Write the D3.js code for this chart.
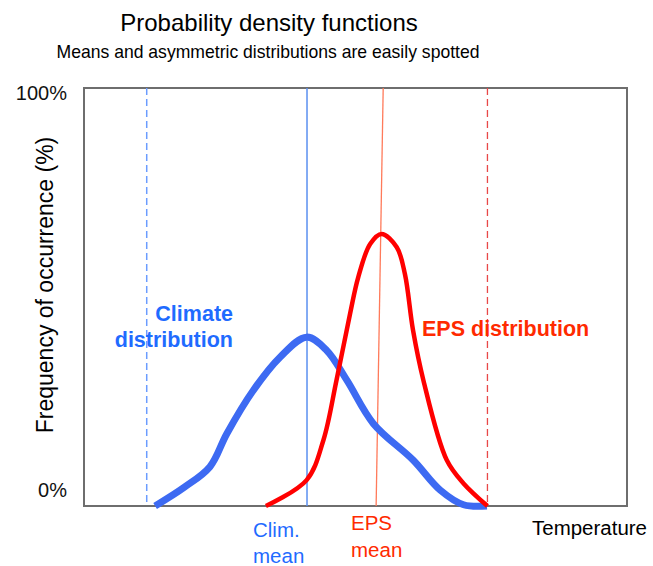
<!DOCTYPE html>
<html><head><meta charset="utf-8">
<script src="https://cdn.jsdelivr.net/npm/d3@7/dist/d3.min.js"></script>
<style>body{margin:0;background:#fff}svg{display:block;font-family:"Liberation Sans",Arial,sans-serif}</style>
</head><body><svg id="c" width="653" height="566"></svg>
<script>
// Data (temperature in arbitrary units 0..100, frequency in %)
const climateTemp = [13.1, 18.5, 23.2, 26.3, 31.2, 36.1, 41.0, 44.7, 48.4, 53.3, 60.6, 65.6, 69.9, 74.2];
const climateFreq = [0, 4.5, 9.4, 17.3, 27.7, 35.6, 40.4, 37.2, 30.1, 19.7, 11.0, 3.8, 0.3, 0];
const epsTemp = [33.5, 41.0, 44.1, 46.5, 49.0, 50.5, 52.7, 54.8, 57.6, 59.1, 60.6, 62.5, 66.8, 69.9, 74.3];
const epsFreq = [0, 6.2, 15.8, 30.1, 46.0, 54.7, 62.7, 65.1, 61.9, 55.5, 42.0, 30.1, 11.0, 5.4, 0];
const climateRange = [11.55, 74.3];
const climateMean = 41.07;
const epsMeanTop = 55.1, epsMeanBottom = 53.8;
const yTickLabels = ["0%", "100%"];
const yTickValues = [0, 100];

const svg = d3.select("#c");
const x = d3.scaleLinear().domain([0, 100]).range([84, 627]);
const y = d3.scaleLinear().domain([0, 100]).range([506, 88]);

// frame
svg.append("rect").attr("x", x(0)).attr("y", y(100)).attr("width", x(100) - x(0)).attr("height", y(0) - y(100))
  .attr("fill", "none").attr("stroke", "#6e6e6e").attr("stroke-width", 2);

// y tick labels
svg.selectAll(".yt").data(yTickValues).enter().append("text")
  .attr("x", 67).attr("y", (d) => d === 0 ? y(d) - 9 : y(d) + 12)
  .attr("text-anchor", "end").attr("font-size", 20).attr("fill", "#111")
  .text((d, i) => yTickLabels[i]);

// reference lines
svg.append("line").attr("x1", x(climateRange[0])).attr("x2", x(climateRange[0])).attr("y1", y(100)).attr("y2", y(0))
  .attr("stroke", "#6b9cff").attr("stroke-width", 1.5).attr("stroke-dasharray", "7,4");
svg.append("line").attr("x1", x(climateRange[1])).attr("x2", x(climateRange[1])).attr("y1", y(100)).attr("y2", y(0))
  .attr("stroke", "#e84848").attr("stroke-width", 1.3).attr("stroke-dasharray", "7,4");
svg.append("line").attr("x1", x(climateMean)).attr("x2", x(climateMean)).attr("y1", y(100)).attr("y2", y(0))
  .attr("stroke", "#5b8ff0").attr("stroke-width", 1.5);
svg.append("line").attr("x1", x(epsMeanTop)).attr("x2", x(epsMeanBottom)).attr("y1", y(100)).attr("y2", y(0))
  .attr("stroke", "#ff7a5a").attr("stroke-width", 1.3);

const line = d3.line().x(d => x(d[0])).y(d => y(d[1])).curve(d3.curveCatmullRom.alpha(0.5));

svg.append("path").attr("d", line(climateTemp.map((t, i) => [t, climateFreq[i]])))
  .attr("fill", "none").attr("stroke", "#3d6af2").attr("stroke-width", 7).attr("stroke-linejoin", "round");
svg.append("path").attr("d", line(epsTemp.map((t, i) => [t, epsFreq[i]])))
  .attr("fill", "none").attr("stroke", "#ff0000").attr("stroke-width", 4.5).attr("stroke-linejoin", "round");

// titles
svg.append("text").attr("x", 269).attr("y", 31).attr("text-anchor", "middle").attr("font-size", 24).attr("fill", "#000")
  .text("Probability density functions");
svg.append("text").attr("x", 268).attr("y", 58).attr("text-anchor", "middle").attr("font-size", 19).attr("fill", "#000")
  .attr("textLength", 423).attr("lengthAdjust", "spacingAndGlyphs")
  .text("Means and asymmetric distributions are easily spotted");

// axis label
svg.append("text").attr("transform", "translate(53,285) rotate(-90)").attr("text-anchor", "middle")
  .attr("font-size", 23).attr("fill", "#000").text("Frequency of occurrence (%)");
svg.append("text").attr("x", 532).attr("y", 535).attr("font-size", 20).attr("fill", "#000")
  .attr("textLength", 115).attr("lengthAdjust", "spacingAndGlyphs").text("Temperature");

// annotations
const blueTxt = "#1f6bff", redTxt = "#ff2a00";
svg.append("text").attr("x", 233).attr("y", 321).attr("text-anchor", "end").attr("font-size", 21.5).attr("font-weight", "bold").attr("fill", blueTxt).text("Climate");
svg.append("text").attr("x", 233).attr("y", 347).attr("text-anchor", "end").attr("font-size", 21.5).attr("font-weight", "bold").attr("fill", blueTxt).text("distribution");
svg.append("text").attr("x", 422).attr("y", 336).attr("font-size", 21.5).attr("font-weight", "bold").attr("fill", redTxt).text("EPS distribution");
svg.append("text").attr("x", 253).attr("y", 537).attr("font-size", 20.5).attr("fill", blueTxt).text("Clim.");
svg.append("text").attr("x", 253).attr("y", 563).attr("font-size", 20.5).attr("fill", blueTxt).text("mean");
svg.append("text").attr("x", 351).attr("y", 530).attr("font-size", 20.5).attr("fill", redTxt).text("EPS");
svg.append("text").attr("x", 351).attr("y", 557).attr("font-size", 20.5).attr("fill", redTxt).text("mean");
</script></body></html>
